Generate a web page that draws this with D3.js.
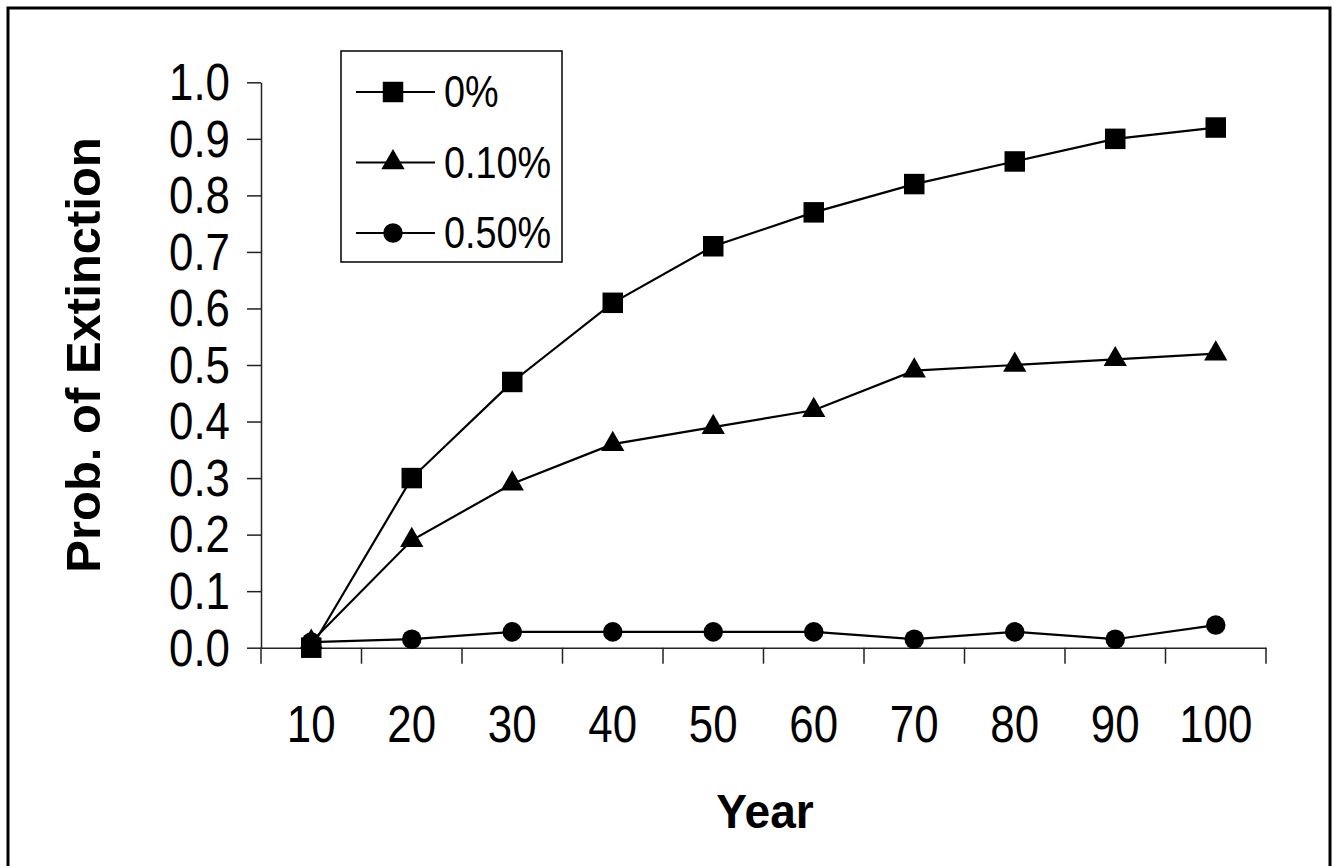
<!DOCTYPE html>
<html lang="en">
<head>
  <meta charset="utf-8">
  <title>Prob. of Extinction</title>
  <script src="https://d3js.org/d3.v7.min.js" charset="utf-8"></script>
  <style>
    body { margin: 0; background: #fff; }
    text { font-family: Arial, "Liberation Sans", sans-serif; fill: #000; }
  </style>
</head>
<body>
  <script type="text/javascript">
    // values
    const years = ["10", "20", "30", "40", "50", "60", "70", "80", "90", "100"]
    const seriesNames = ["0%", "0.10%", "0.50%"]
    const rate0 = [0.00, 0.30, 0.47, 0.61, 0.71, 0.77, 0.82, 0.86, 0.90, 0.92]
    const rate010 = [0.01, 0.19, 0.29, 0.36, 0.39, 0.42, 0.49, 0.50, 0.51, 0.52]
    const rate050 = [0.01, 0.015, 0.028, 0.028, 0.028, 0.028, 0.015, 0.028, 0.015, 0.04]
    const yTicks = [0, 0.1, 0.2, 0.3, 0.4, 0.5, 0.6, 0.7, 0.8, 0.9, 1.0]

    const width = 1333
    const height = 866
    const squeeze = 0.86 // the original's labels are a little narrow

    const svg = d3.select("body")
      .append("svg")
      .attr("width", width)
      .attr("height", height)

    svg.append("rect")
      .attr("x", 8).attr("y", 8)
      .attr("width", 1322).attr("height", 880)
      .attr("fill", "#fff")
      .attr("stroke", "#000")
      .attr("stroke-width", 3)

    const x = d3.scaleBand().domain(years).range([261, 1266]).padding(0)
    const y = d3.scaleLinear().domain([0, 1]).range([647.7, 82.3])

    // y axis
    const yAxis = svg.append("g")
      .attr("transform", `translate(${x.range()[0]},0)`)
      .call(d3.axisLeft(y).tickValues(yTicks).tickSize(14).tickSizeOuter(0).tickFormat(d3.format(".1f")))
    yAxis.select(".domain").attr("stroke", "#222").attr("stroke-width", 1.5)
    yAxis.selectAll(".tick line").attr("stroke", "#222").attr("stroke-width", 1.5)
    yAxis.selectAll(".tick text")
      .attr("font-size", 51)
      .attr("font-family", null)
      .attr("fill", "#000")
      .attr("x", -31 / squeeze)
      .attr("dy", "0.34em")
      .attr("transform", `scale(${squeeze},1)`)

    // x axis: labels centred in categories, ticks between them
    const xAxis = svg.append("g")
      .attr("transform", `translate(0,${y(0)})`)
      .call(d3.axisBottom(x).tickSize(0).tickSizeOuter(0))
    xAxis.select(".domain").attr("stroke", "#222").attr("stroke-width", 1.5)
    xAxis.selectAll(".tick text")
      .attr("font-size", 51)
      .attr("font-family", null)
      .attr("fill", "#000")
      .attr("y", 94)
      .attr("dy", null)
      .attr("transform", `scale(${squeeze},1)`)

    xAxis.selectAll(".cat-tick")
      .data(years.map(d => x(d)).concat([x.range()[1]]))
      .join("line")
      .attr("class", "cat-tick")
      .attr("x1", d => d).attr("x2", d => d)
      .attr("y1", 0).attr("y2", 16)
      .attr("stroke", "#222")
      .attr("stroke-width", 1.5)

    // axis titles
    svg.append("text")
      .attr("transform", `translate(100,355) rotate(-90)`)
      .attr("text-anchor", "middle")
      .attr("font-size", 49)
      .attr("font-weight", "bold")
      .text("Prob. of Extinction")

    svg.append("text")
      .attr("transform", `translate(765,828) scale(0.94,1)`)
      .attr("text-anchor", "middle")
      .attr("font-size", 49)
      .attr("font-weight", "bold")
      .text("Year")

    // series
    const symbols = [
      d3.symbol().type(d3.symbolSquare).size(420),
      d3.symbol().type(d3.symbolTriangle).size(235),
      d3.symbol().type(d3.symbolCircle).size(300)
    ]
    const series = [rate0, rate010, rate050]
    const cx = d => x(d) + x.bandwidth() / 2

    const line = d3.line()
      .x((v, i) => cx(years[i]))
      .y(v => y(v))

    // draw the lowest series first so the squares sit on top at year 10
    const order = [2, 1, 0]
    order.forEach(k => {
      const g = svg.append("g")
      g.append("path")
        .datum(series[k])
        .attr("d", line)
        .attr("fill", "none")
        .attr("stroke", "#000")
        .attr("stroke-width", 2.2)
      g.selectAll("path.mark")
        .data(series[k])
        .join("path")
        .attr("class", "mark")
        .attr("transform", (v, i) => `translate(${cx(years[i])},${y(v)})`)
        .attr("d", symbols[k])
        .attr("fill", "#000")
    })

    // legend
    const legend = svg.append("g")
    legend.append("rect")
      .attr("x", 341).attr("y", 51)
      .attr("width", 221).attr("height", 211)
      .attr("fill", "#fff")
      .attr("stroke", "#000")
      .attr("stroke-width", 1.5)

    const rowY = d3.scalePoint().domain(seriesNames).range([92, 233])
    const item = legend.selectAll("g.item")
      .data(seriesNames)
      .join("g")
      .attr("class", "item")
      .attr("transform", d => `translate(0,${rowY(d)})`)
    item.append("line")
      .attr("x1", 356).attr("x2", 435)
      .attr("stroke", "#000").attr("stroke-width", 2.2)
    item.append("path")
      .attr("transform", "translate(393,0)")
      .attr("d", (d, i) => symbols[i]())
      .attr("fill", "#000")
    item.append("text")
      .attr("transform", `translate(444,0) scale(${squeeze},1)`)
      .attr("dy", "0.35em")
      .attr("font-size", 44)
      .text(d => d)
  </script>
</body>
</html>
